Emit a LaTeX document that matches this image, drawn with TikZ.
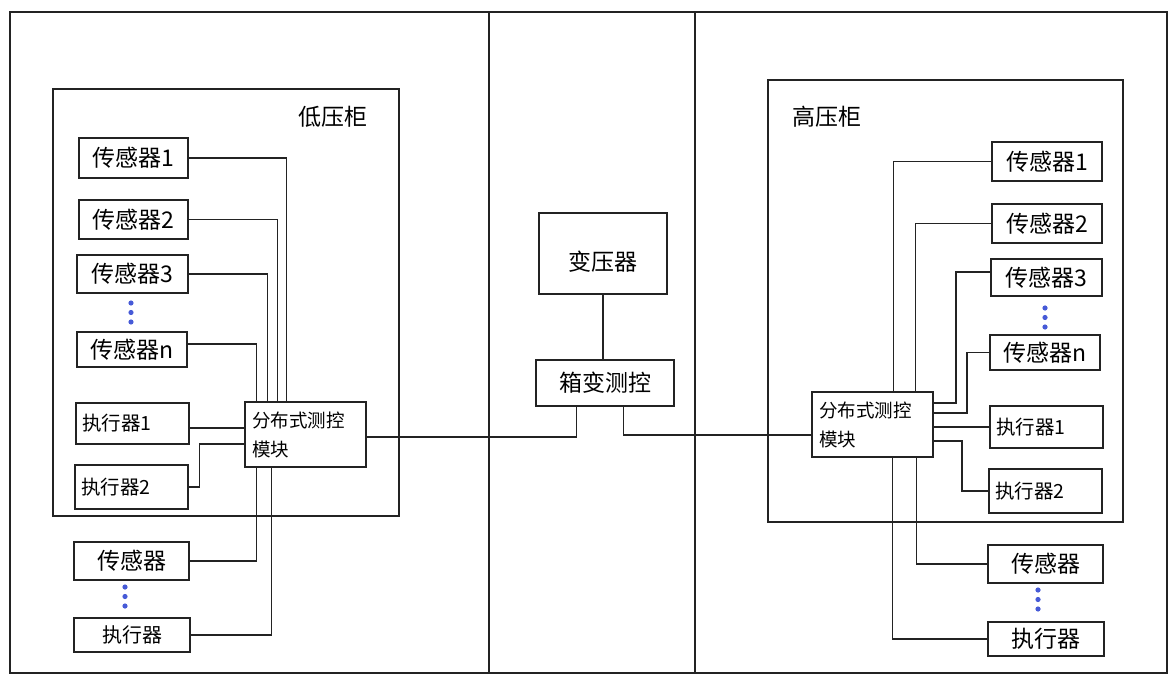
\documentclass[tikz,border=0pt]{standalone}
\usepackage{fontspec}
\setmainfont{Noto Sans CJK SC}
\usepackage{tikz}
\definecolor{linegray}{RGB}{35,35,35}
\definecolor{dotblue}{RGB}{70,90,215}

\begin{document}
\begin{tikzpicture}[
  x=1pt, y=-1pt,
  box/.style     = {rectangle, draw=linegray, line width=1.2pt, inner sep=0pt,
                  align=center, font=\fontsize{23}{26}\selectfont},
  actbox/.style  = {box, align=left, text width=101pt, font=\fontsize{19.5}{22}\selectfont},
  modbox/.style  = {rectangle, draw=linegray, line width=1.2pt, inner sep=0pt,
                  minimum width=121pt, minimum height=65pt, align=left,
                  text width=107pt, font=\fontsize{18.5}{29}\selectfont},
  cablab/.style  = {inner sep=0pt, font=\fontsize{23}{26}\selectfont},
  frame/.style   = {draw=linegray, line width=1.1pt},
  wire/.style    = {draw=linegray, line width=1.1pt},
]

\useasboundingbox (0,0) rectangle (1175,682);

%% Outer frame and dividers
\draw[frame] (10,12) rectangle (1167,673);
\draw[frame] (489,12) -- (489,673);
\draw[frame] (695,12) -- (695,673);

%% Cabinets
\draw[frame] (53,89) rectangle (399,516);
\draw[frame] (768,80) rectangle (1123,522);
\node[cablab] (lvlab) at (333,117) {低压柜};
\node[cablab] (hvlab) at (827,117) {高压柜};

%% Low-voltage side
\node[box, minimum width=109pt, minimum height=40pt] (ls1) at (133.5,158)   {传感器1};
\node[box, minimum width=109pt, minimum height=39pt] (ls2) at (133.5,219.5) {传感器2};
\node[box, minimum width=111pt, minimum height=38pt] (ls3) at (132.5,274)   {传感器3};
\node[box, minimum width=110pt, minimum height=35pt] (lsn) at (132,349.5)   {传感器n};
\node[actbox, minimum width=113pt, minimum height=41pt] (la1) at (132.5,423.5) {执行器1};
\node[actbox, minimum width=113pt, minimum height=44pt] (la2) at (131.5,487)   {执行器2};
\node[modbox] (lmod) at (305.5,434.5) {分布式测控\\模块};
\node[box, minimum width=115pt, minimum height=38pt] (ls) at (131.5,561) {传感器};
\node[box, minimum width=116pt, minimum height=34pt,
      font=\fontsize{20}{22}\selectfont] (la) at (132,635) {执行器};

%% Middle: transformer
\node[box, minimum width=128pt, minimum height=81pt,
      text height=38pt, text depth=4pt] (tr) at (603,253.5) {变压器};
\node[box, minimum width=138pt, minimum height=46pt] (bx) at (605,383)   {箱变测控};

%% High-voltage side
\node[box, minimum width=110pt, minimum height=39pt] (rs1) at (1047,161.5)   {传感器1};
\node[box, minimum width=110pt, minimum height=39pt] (rs2) at (1047,223.5)   {传感器2};
\node[box, minimum width=111pt, minimum height=37pt] (rs3) at (1046.5,277.5) {传感器3};
\node[box, minimum width=110pt, minimum height=35pt] (rsn) at (1045,352.5)   {传感器n};
\node[modbox] (rmod) at (872.5,424.5) {分布式测控\\模块};
\node[actbox, minimum width=113pt, minimum height=42pt] (ra1) at (1046.5,427) {执行器1};
\node[actbox, minimum width=113pt, minimum height=44pt] (ra2) at (1045.5,491) {执行器2};
\node[box, minimum width=115pt, minimum height=38pt] (rs) at (1045.5,564) {传感器};
\node[box, minimum width=116pt, minimum height=34pt] (ra) at (1046,639)   {执行器};

%% Ellipsis dots
\foreach \x/\y in {131/303, 125/587, 1045/308, 1038/590} {
  \foreach \k in {0,1,2}
    \fill[dotblue] (\x,\y+9.5*\k) circle (2.6pt);
}

%% Wires, low-voltage side
\foreach \n/\dx in {ls1/42, ls2/33, ls3/23} {
  \draw[wire] (\n.east) -| ([xshift=\dx pt]lmod.north west);
}
\draw[wire] ([yshift=5.5pt]lsn.east) -| ([xshift=12pt]lmod.north west);
\draw[wire] ([yshift=-4.5pt]la1.east) -- (lmod.west |- 0,428);
\draw[wire] (la2.east) -- ++(11,0) |- (lmod.west |- 0,444);
\draw[wire] (ls.east) -| ([xshift=12pt]lmod.south west);
\draw[wire] (la.east) -| ([xshift=27pt]lmod.south west);

%% Wires, middle
\draw[wire] (tr.south) -- (tr.south |- bx.north);
\draw[wire] ([yshift=-2.5pt]lmod.east) -| ([xshift=41pt]bx.south west);
\draw[wire] ([xshift=88pt]bx.south west) |- (rmod.west |- 0,435);

%% Wires, high-voltage side
\foreach \n/\dx in {rs1/82, rs2/104} {
  \draw[wire] (\n.west) -| ([xshift=\dx pt]rmod.north west);
}
\draw[wire] ([yshift=5.5pt]rs3.west) -| (956,403) -- (rmod.east |- 0,403);
\draw[wire] (rsn.west) -| (967,413) -- (rmod.east |- 0,413);
\draw[wire] (rmod.east |- ra1.west) -- (ra1.west);
\draw[wire] (rmod.east |- 0,441) -- (962,441) |- (ra2.west);
\draw[wire] ([xshift=105pt]rmod.south west) |- (rs.west);
\draw[wire] ([xshift=81pt]rmod.south west) |- (ra.west);

\end{tikzpicture}
\end{document}
